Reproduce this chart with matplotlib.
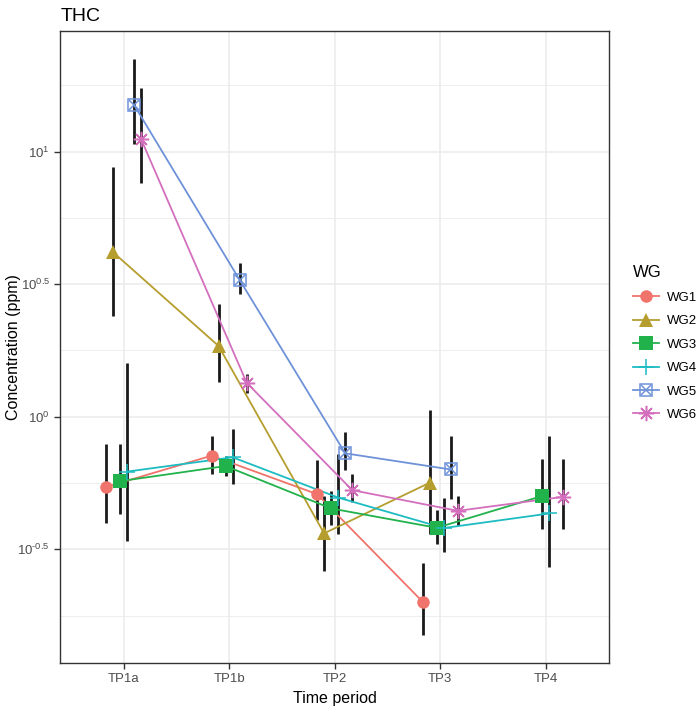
# libraries
import numpy as np
import matplotlib.pyplot as plt
from matplotlib.lines import Line2D

plt.rcParams['font.family'] = ['Liberation Sans', 'DejaVu Sans']
plt.rcParams['mathtext.fontset'] = 'custom'
plt.rcParams['mathtext.rm'] = 'Liberation Sans'
plt.rcParams['mathtext.it'] = 'Liberation Sans'
plt.rcParams['mathtext.default'] = 'regular'
plt.rcParams['axes.unicode_minus'] = False

# time periods and groups
periods = ['TP1a', 'TP1b', 'TP2', 'TP3', 'TP4']
groups = ['WG1', 'WG2', 'WG3', 'WG4', 'WG5', 'WG6']

# log10 concentration (ppm): mean, upper, lower  (None = missing)
wg1_mean = [-0.265, -0.147, -0.292, -0.698, None]
wg1_hi = [-0.104, -0.073, -0.163, -0.550, None]
wg1_lo = [-0.400, -0.216, -0.390, -0.824, None]

wg2_mean = [0.621, 0.267, -0.440, -0.249, None]
wg2_hi = [0.943, 0.425, -0.299, 0.025, None]
wg2_lo = [0.380, 0.130, -0.583, -0.444, None]

wg3_mean = [-0.243, -0.186, -0.346, -0.419, -0.299]
wg3_hi = [-0.104, -0.147, -0.280, -0.352, -0.158]
wg3_lo = [-0.367, -0.223, -0.410, -0.482, -0.423]

wg4_mean = [-0.207, -0.153, -0.305, -0.420, -0.365]
wg4_hi = [0.204, -0.048, -0.141, -0.308, -0.073]
wg4_lo = [-0.469, -0.254, -0.444, -0.509, -0.568]

wg5_mean = [1.176, 0.516, -0.138, -0.199, None]
wg5_hi = [1.351, 0.579, -0.059, -0.073, None]
wg5_lo = [1.029, 0.462, -0.201, -0.311, None]

wg6_mean = [1.047, 0.128, -0.277, -0.355, -0.302]
wg6_hi = [1.242, 0.161, -0.217, -0.299, -0.158]
wg6_lo = [0.881, 0.091, -0.321, -0.410, -0.423]

means = [wg1_mean, wg2_mean, wg3_mean, wg4_mean, wg5_mean, wg6_mean]
his = [wg1_hi, wg2_hi, wg3_hi, wg4_hi, wg5_hi, wg6_hi]
los = [wg1_lo, wg2_lo, wg3_lo, wg4_lo, wg5_lo, wg6_lo]

colors = ['#F0736C', '#B59E2E', '#22B24C', '#1DBCC2', '#6E92D8', '#D46FBE']
markers = ['o', '^', 's', '+', 's', (8, 2, 0)]

fig = plt.figure(figsize=(7, 7.08), dpi=100)
ax = fig.add_axes([0.0861, 0.064, 0.784, 0.892])

dodge = 0.4 / len(groups)
handles = []
for g, name in enumerate(groups):
    off = (g - 2.5) * dodge
    idx = [i for i, v in enumerate(means[g]) if v is not None]
    x = np.array(idx) + off
    m = 10 ** np.array([means[g][i] for i in idx])
    hi = 10 ** np.array([his[g][i] for i in idx])
    lo = 10 ** np.array([los[g][i] for i in idx])
    ax.vlines(x, lo, hi, color='#1A1A1A', lw=2, zorder=2)
    ax.plot(x, m, color=colors[g], lw=1.3, zorder=3)
    if g == 4:
        # boxed cross
        ax.plot(x, m, ls='none', marker='s', ms=9, mfc='none', mec=colors[g], mew=1.1, zorder=4)
        ax.plot(x, m, ls='none', marker='x', ms=7, mec=colors[g], mew=1.1, zorder=4)
        h = (Line2D([], [], color=colors[g], lw=1.3, marker='s', ms=9, mfc='none', mec=colors[g], mew=1.1),
             Line2D([], [], ls='none', marker='x', ms=7, color=colors[g], mew=1.1))
    elif g in (3, 5):
        ax.plot(x, m, ls='none', marker=markers[g], ms=11, mec=colors[g], mew=1.1, zorder=4)
        h = Line2D([], [], color=colors[g], lw=1.3, marker=markers[g], ms=11, mec=colors[g], mew=1.1)
    else:
        ms = 9.5 if g != 0 else 9
        ax.plot(x, m, ls='none', marker=markers[g], ms=ms, color=colors[g], mew=0, zorder=4)
        h = Line2D([], [], color=colors[g], lw=1.3, marker=markers[g], ms=ms, mew=0)
    handles.append(h)

# scales
ax.set_yscale('log')
ax.set_ylim(10 ** -0.928, 10 ** 1.455)
ax.set_xlim(-0.6, 4.6)
ax.set_xticks(range(len(periods)))
ax.set_xticklabels(periods)
yt = [-0.5, 0, 0.5, 1]
ax.set_yticks([10 ** v for v in yt])
ax.set_yticklabels(['$10^{\\text{-0.5}}$', '$10^{0}$', '$10^{0.5}$', '$10^{1}$'])
ax.set_yticks([10 ** v for v in [-0.75, -0.25, 0.25, 0.75, 1.25]], minor=True)
ax.yaxis.set_minor_formatter(plt.NullFormatter())

# theme_bw look
ax.grid(True, which='major', color='#EBEBEB', lw=1.1)
ax.grid(True, which='minor', axis='y', color='#EBEBEB', lw=0.6)
ax.set_axisbelow(True)
for s in ax.spines.values():
    s.set_color('#333333')
    s.set_linewidth(1.0)
ax.tick_params(which='major', length=4, width=1, color='#333333', labelcolor='#4D4D4D', labelsize=9.5)
ax.tick_params(which='minor', length=0)

ax.set_xlabel('Time period', fontsize=11.5, labelpad=4)
ax.set_ylabel('Concentration (ppm)', fontsize=11.5)
ax.yaxis.set_label_coords(-0.071, 0.5)
ax.set_title('THC', loc='left', fontsize=14, pad=7)

leg = fig.legend(handles, groups, title='WG', loc='upper left', bbox_to_anchor=(0.887, 0.642),
                 frameon=False, fontsize=9.5, title_fontsize=12, handlelength=2.0,
                 labelspacing=0.85, handletextpad=0.6)
leg._legend_box.align = 'left'

fig.savefig('out.png', dpi=100)
